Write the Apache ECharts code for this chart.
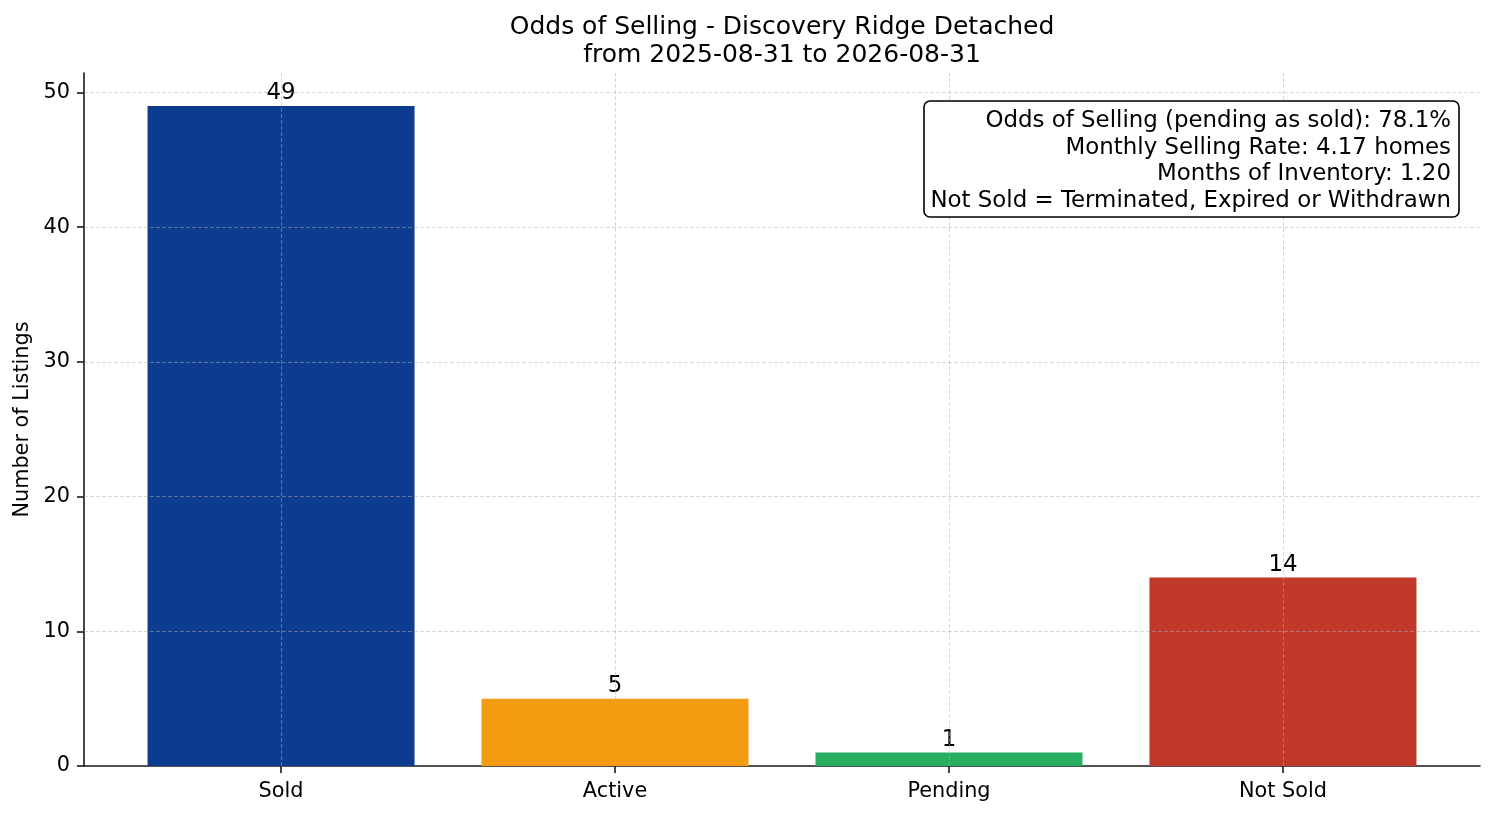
<!DOCTYPE html>
<html>
<head>
<meta charset="utf-8">
<script src="https://cdn.jsdelivr.net/npm/echarts@6/dist/echarts.min.js"></script>
<style>
  html, body { margin: 0; padding: 0; background: #fff; }
  #main { width: 1494px; height: 816px; }
</style>
</head>
<body>
<div id="main"></div>
<script>
// 数据
var categories = ['Sold', 'Active', 'Pending', 'Not Sold'];
var counts = [49, 5, 1, 14];
var yTicks = [0, 10, 20, 30, 40, 50];
var titleLines = ['Odds of Selling - Discovery Ridge Detached', 'from 2025-08-31 to 2026-08-31'];
var infoLines = [
  'Odds of Selling (pending as sold): 78.1%',
  'Monthly Selling Rate: 4.17 homes',
  'Months of Inventory: 1.20',
  'Not Sold = Terminated, Expired or Withdrawn'
];
var barColors = ['#0c3b8f', '#f39c12', '#27ae60', '#c0392b'];

var font = 'DejaVu Sans';
var xPos = categories.map(function (c, i) { return i; });

var myChart = echarts.init(document.getElementById('main'));

// 网格线 (画在柱子上面)
var gridLines = xPos.map(function (i) { return { xAxis: i }; })
  .concat(yTicks.filter(function (v) { return v > 0; }).map(function (v) { return { yAxis: v }; }));

var option = {
  animation: false,
  backgroundColor: '#fff',
  textStyle: { fontFamily: font },
  grid: { left: 84, right: 14, top: 73, bottom: 50, containLabel: false },
  xAxis: {
    type: 'value',
    min: -0.59,
    max: 3.59,
    axisLine: { show: true, onZero: false, lineStyle: { color: '#1a1a1a', width: 1.6 } },
    axisTick: { show: true, length: 7, customValues: xPos, lineStyle: { color: '#1a1a1a', width: 1.6 } },
    axisLabel: {
      customValues: xPos,
      margin: 15,
      fontSize: 20.8,
      color: '#000',
      fontFamily: font,
      formatter: function (v) { return categories[Math.round(v)]; }
    },
    splitLine: { show: false }
  },
  yAxis: {
    type: 'value',
    min: 0,
    max: 51.45,
    name: 'Number of Listings',
    nameLocation: 'middle',
    nameGap: 49,
    nameTextStyle: { fontSize: 20.8, color: '#000', fontFamily: font },
    axisLine: { show: true, onZero: false, lineStyle: { color: '#1a1a1a', width: 1.6 } },
    axisTick: { show: true, length: 7, customValues: yTicks, lineStyle: { color: '#1a1a1a', width: 1.6 } },
    axisLabel: {
      customValues: yTicks,
      margin: 14,
      fontSize: 20.8,
      color: '#000',
      fontFamily: font
    },
    splitLine: { show: false }
  },
  series: [{
    type: 'bar',
    barWidth: 267,
    data: counts.map(function (v, i) {
      return { value: [i, v], itemStyle: { color: barColors[i] } };
    }),
    label: {
      show: true,
      position: 'top',
      distance: 1,
      fontSize: 22.9,
      color: '#000',
      fontFamily: font,
      formatter: function (p) { return p.value[1]; }
    },
    markLine: {
      silent: true,
      symbol: 'none',
      animation: false,
      z: 5,
      label: { show: false },
      lineStyle: { color: 'rgba(176,176,176,0.5)', type: [4, 2], width: 1 },
      emphasis: { disabled: true },
      data: gridLines
    }
  }],
  graphic: [
    {
      type: 'text',
      x: 782,
      y: 13,
      z: 100,
      style: {
        text: titleLines.join('\n'),
        font: '25px "DejaVu Sans"',
        lineHeight: 28,
        fill: '#000',
        align: 'center',
        verticalAlign: 'top'
      }
    },
    // 右上角说明框
    {
      type: 'rect',
      z: 100,
      shape: { x: 924, y: 101, width: 535, height: 116, r: 6 },
      style: { fill: '#fff', stroke: '#000', lineWidth: 1.6 }
    },
    {
      type: 'text',
      x: 1451,
      y: 107.5,
      z: 101,
      style: {
        text: infoLines.join('\n'),
        font: '22.9px "DejaVu Sans"',
        lineHeight: 26.7,
        fill: '#000',
        align: 'right',
        verticalAlign: 'top'
      }
    }
  ]
};

myChart.setOption(option);
</script>
</body>
</html>
